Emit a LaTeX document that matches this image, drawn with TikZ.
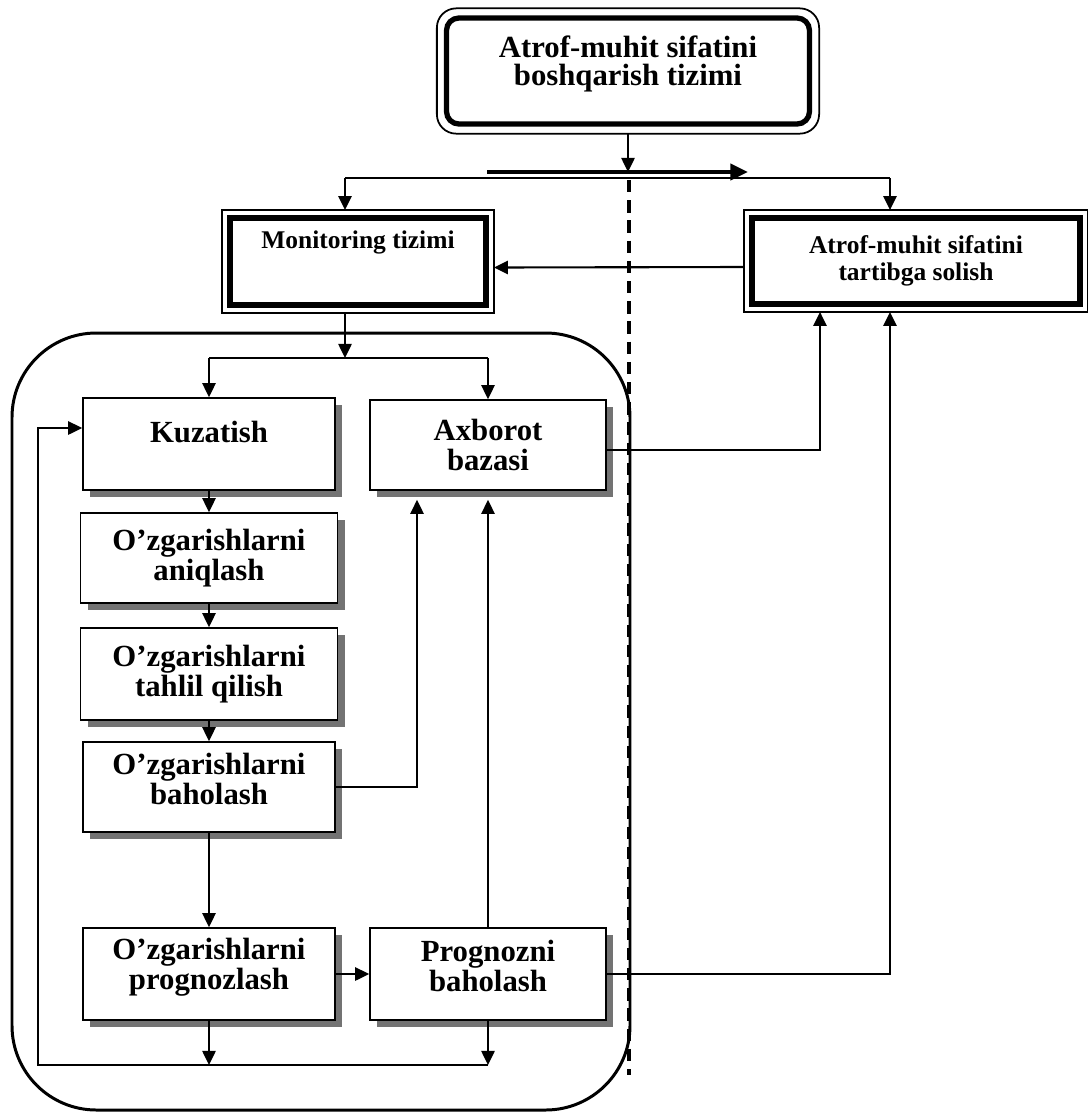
\documentclass[tikz,border=0pt]{standalone}
\usepackage{fontspec}
\setmainfont{Liberation Serif}
\usepackage{tikz}
\usetikzlibrary{positioning}
\usetikzlibrary{shadows}
\usetikzlibrary{arrows.meta}

\tikzset{
	stage/.style={draw, line width=0.9pt, fill=white, align=center,
		font=\bfseries\fontsize{17.5}{17}\selectfont,
		drop shadow={shadow xshift=4pt, shadow yshift=-4pt, fill=black!55, opacity=1}},
	heavy/.style={draw, line width=3.6pt, fill=white, align=center, outer sep=4.5pt,
		font=\bfseries\fontsize{14.5}{15.5}\selectfont},
	frame/.style={line width=1pt},
	link/.style={line width=1.2pt, -{Triangle[length=8pt,width=7.5pt]}},
	wire/.style={line width=1.2pt},
	bigarrow/.style={line width=2.6pt, -{Triangle[length=10pt,width=9pt]}},
}

\begin{document}
\begin{tikzpicture}[x=0.02cm, y=-0.02cm]
	\useasboundingbox (0,0) rectangle (1088,1113);
	
	% rounded frame round the monitoring part
	\draw[line width=1.7pt, rounded corners=48pt] (12,333) rectangle (630,1110);
	
	\node[heavy, rounded corners=7pt, line width=3pt, outer sep=5.5pt, minimum width=7.26cm, minimum height=2.12cm, font=\bfseries\fontsize{17.5}{16}\selectfont, text depth=12pt] (boss) at (628,71) {Atrof-muhit sifatini\\boshqarish tizimi};
	\draw[frame, rounded corners=11pt] (boss.north west) rectangle (boss.south east);
	
	\node[heavy, minimum width=5.12cm, minimum height=1.74cm, text depth=25pt] (mon) at (358,261.5) {Monitoring tizimi};
	\draw[frame] (mon.north west) rectangle (mon.south east);
	\node[heavy, minimum width=6.56cm, minimum height=1.72cm] (reg) at (916,261) {Atrof-muhit sifatini\\tartibga solish};
	\draw[frame] (reg.north west) rectangle (reg.south east);
	
	\node[stage, minimum width=5.04cm, minimum height=1.84cm, text depth=13.6pt] (kuz) at (209,444) {Kuzatish};
	\node[stage, minimum width=4.72cm, minimum height=1.8cm] (axb) at (488,445) {Axborot\\bazasi};
	\node[stage, minimum width=5.14cm, minimum height=1.8cm] (aniq) at (209,558) {O’zgarishlarni\\aniqlash};
	\node[stage, minimum width=5.14cm, minimum height=1.84cm] (tahlil) at (209,674) {O’zgarishlarni\\tahlil qilish};
	\node[stage, minimum width=5.04cm, minimum height=1.8cm, text depth=9pt] (bah) at (209,787) {O’zgarishlarni\\baholash};
	\node[stage, minimum width=5.04cm, minimum height=1.84cm, text depth=12pt] (prog) at (209,974) {O’zgarishlarni\\prognozlash};
	\node[stage, minimum width=4.72cm, minimum height=1.84cm, text depth=9pt] (pbah) at (488,974) {Prognozni\\baholash};
	
	\coordinate (split) at (628,172);
	\coordinate (th1) at (487,172);
	\coordinate (th2) at (748,172);
	\coordinate (dtop) at (629,180);
	\coordinate (dbot) at (629,1075);
	\coordinate (lt) at (345,178);
	\coordinate (rt) at (890,178);
	\coordinate (mb) at (345,358);
	\coordinate (loop) at (38,1065);
	
	% top part
	\draw[link] (boss.south) -- (split);
	\draw[bigarrow] (th1) -- (th2);
	\draw[line width=2.1pt, dash pattern=on 7pt off 4.5pt] (dtop) -- (dbot);
	\draw[wire] (lt) -- (rt);
	\draw[link] (lt) -- (lt |- mon.north);
	\draw[link] (rt) -- (rt |- reg.north);
	\draw[link] ([yshift=-0.12cm]reg.west) -- ([yshift=-0.12cm]mon.east);
	\draw[link] (lt |- mon.south) -- (mb);
	\draw[wire] (mb -| kuz.north) -- (mb -| axb.north);
	\draw[link] (mb -| kuz.north) -- (kuz.north);
	\draw[link] (mb -| axb.north) -- (axb.north);
	
	% chain
	\draw[link] (kuz.south) -- (aniq.north);
	\draw[link] (aniq.south) -- (tahlil.north);
	\draw[link] (tahlil.south) -- (bah.north);
	\draw[link] (bah.south) -- (prog.north);
	\draw[link] (prog.east) -- (pbah.west);
	\draw[link] (bah.east) -| ([xshift=-1.42cm, yshift=-0.18cm]axb.south);
	\draw[link] (pbah.north) -- ([yshift=-0.18cm]axb.south);
	\draw[link] ([yshift=-0.1cm]axb.east) -| ([xshift=-1.92cm]reg.south);
	\draw[link] (pbah.east) -| ([xshift=-0.52cm]reg.south);
	
	% feedback
	\draw[link] (prog.south) -- (prog.south |- loop);
	\draw[link] (pbah.south) -- (pbah.south |- loop);
	\draw[link] (pbah.south |- loop) -- (loop) |- ([yshift=0.32cm]kuz.west);
	
\end{tikzpicture}
\end{document}
